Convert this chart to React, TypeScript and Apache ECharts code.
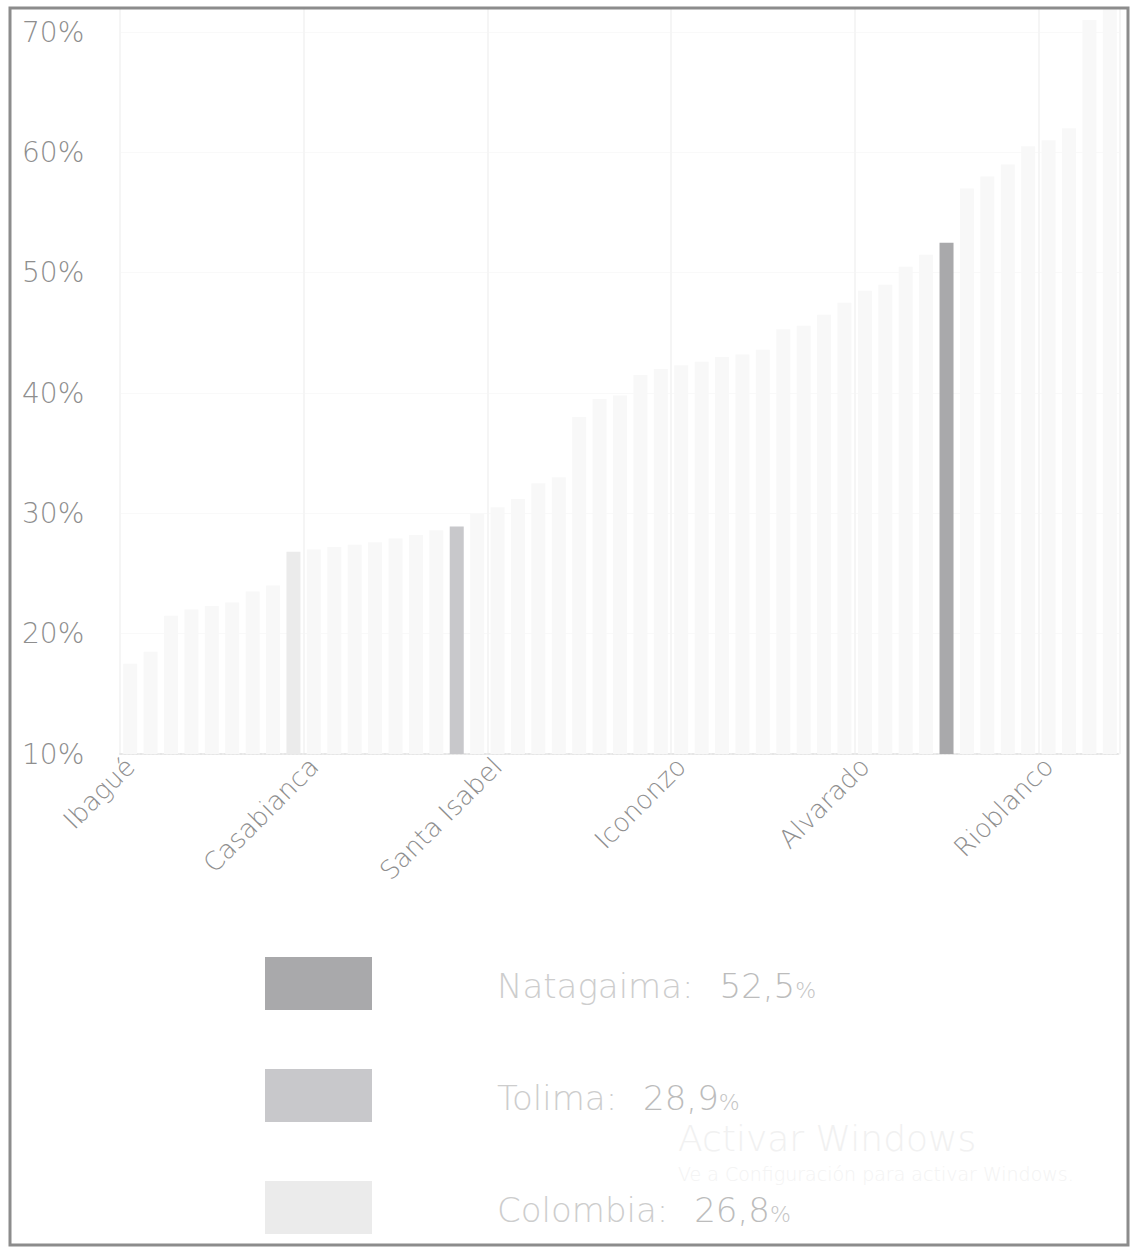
import React, { useEffect, useRef } from "react";
import * as echarts from "echarts";

// Categories (sorted ascending by value)
const categories: string[] = [
  "Ibagué", "Espinal", "Honda", "Melgar", "Flandes", "Líbano", "Mariquita", "Lérida",
  "Colombia", "Casabianca", "Venadillo", "Fresno", "Murillo", "Guamo", "Carmen de Apicalá",
  "Villahermosa", "Tolima", "Alpujarra", "Santa Isabel", "Herveo", "Purificación", "Armero",
  "Ambalema", "Falan", "Palocabildo", "Cajamarca", "Saldaña", "Icononzo", "Piedras", "Suárez",
  "Anzoátegui", "Prado", "Dolores", "Coello", "Valle de San Juan", "Cunday", "Alvarado",
  "Villarrica", "San Luis", "Chaparral", "Natagaima", "Rovira", "San Antonio", "Roncesvalles",
  "Ortega", "Rioblanco", "Ataco", "Coyaima", "Planadas",
];

const values: number[] = [
  17.5, 18.5, 21.5, 22.0, 22.3, 22.6, 23.5, 24.0,
  26.8, 27.0, 27.2, 27.4, 27.6, 27.9, 28.2,
  28.6, 28.9, 30.0, 30.5, 31.2, 32.5, 33.0,
  38.0, 39.5, 39.8, 41.5, 42.0, 42.3, 42.6, 43.0,
  43.2, 43.6, 45.3, 45.6, 46.5, 47.5, 48.5,
  49.0, 50.5, 51.5, 52.5, 57.0, 58.0, 59.0,
  60.5, 61.0, 62.0, 71.0, 72.0,
];

// Highlighted entries, shown in legend order
const legendNames: string[] = ["Natagaima", "Tolima", "Colombia"];

const yTicks: number[] = [10, 20, 30, 40, 50, 60, 70];

const highlightColors: Record<string, string> = {
  Natagaima: "#a9a9ab",
  Tolima: "#c8c8cb",
  Colombia: "#ebebeb",
};
const baseColor = "#f8f8f8";
const FONT = "'DejaVu Sans', sans-serif";

export default function App() {
  const ref = useRef<HTMLDivElement>(null);

  useEffect(() => {
    if (!ref.current) return;
    const chart = echarts.init(ref.current, undefined, { renderer: "svg" });

    const fmt = (v: number) => v.toFixed(1).replace(".", ",");

    const legendGraphics: any[] = [];
    legendNames.forEach((name, k) => {
      const idx = categories.indexOf(name);
      const y = 957 + k * 112;
      legendGraphics.push({
        type: "rect",
        shape: { x: 265, y, width: 107, height: 53 },
        style: { fill: highlightColors[name] },
      });
      legendGraphics.push({
        type: "text",
        x: 497,
        y: y + 29,
        style: {
          text: `{n|${name}:}{v|${fmt(values[idx])}}{p|%}`,
          verticalAlign: "middle",
          rich: {
            n: { fontSize: 34, fontFamily: FONT, fontWeight: 200, fill: "#cdcdcd" },
            v: { fontSize: 34, fontFamily: FONT, fontWeight: 200, fill: "#bcbcbc", padding: [0, 0, 0, 26] },
            p: { fontSize: 22, fontFamily: FONT, fontWeight: 200, fill: "#c4c4c4", padding: [8, 0, 0, 0] },
          },
        },
      });
    });

    chart.setOption({
      animation: false,
      backgroundColor: "#ffffff",
      grid: { left: 120, right: 11, top: 8, bottom: 496, containLabel: false },
      xAxis: {
        type: "category",
        data: categories,
        axisTick: { show: false },
        axisLine: { show: true, lineStyle: { color: "#e6e6e6", type: "dotted", width: 2 } },
        axisLabel: {
          interval: 8,
          rotate: 45,
          margin: 8,
          fontSize: 26,
          fontFamily: FONT,
          fontWeight: 200,
          color: "#8e8e8e",
        },
        splitLine: { show: true, interval: 8, lineStyle: { color: "#f5f5f5", width: 2 } },
      },
      yAxis: {
        type: "value",
        min: 10,
        max: 72,
        interval: 10,
        axisLine: { show: false },
        axisTick: { show: false },
        splitLine: { show: true, lineStyle: { color: "#f9f9f9" } },
        axisLabel: {
          align: "left",
          margin: 98,
          fontSize: 28,
          fontFamily: FONT,
          fontWeight: 200,
          color: "#8e8e8e",
          formatter: (v: number) => (yTicks.includes(v) ? `${v}%` : ""),
        },
      },
      series: [
        {
          type: "bar",
          barWidth: 14,
          data: values.map((v, i) => ({
            value: v,
            itemStyle: { color: highlightColors[categories[i]] || baseColor },
          })),
          z: 2,
        },
      ],
      graphic: [
        {
          type: "rect",
          shape: { x: 10, y: 8, width: 1118, height: 1237 },
          style: { fill: "none", stroke: "#8c8c8c", lineWidth: 3 },
          z: 100,
        },
        ...legendGraphics,
        {
          type: "text",
          x: 678,
          y: 1120,
          style: { text: "Activar Windows", fontSize: 36, fontFamily: FONT, fontWeight: 200, fill: "#f1f1f1" },
        },
        {
          type: "text",
          x: 678,
          y: 1164,
          style: { text: "Ve a Configuración para activar Windows.", fontSize: 19, fontFamily: FONT, fontWeight: 200, fill: "#f3f3f3" },
        },
      ],
    });

    return () => chart.dispose();
  }, []);

  return (
    <div
      ref={ref}
      style={{ position: "fixed", left: 0, top: 0, width: 1131, height: 1250, background: "#fff" }}
    />
  );
}
